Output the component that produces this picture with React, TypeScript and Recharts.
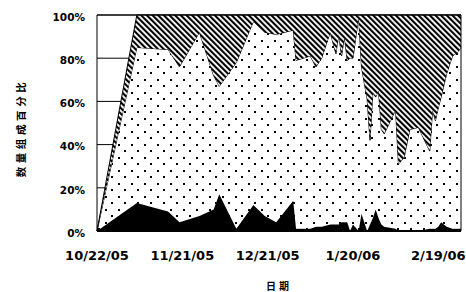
import { AreaChart, Area, XAxis, YAxis, CartesianGrid, ReferenceLine } from 'recharts'

// days counted from 10/22/05
const days = [
  0, 14, 25, 29, 36, 41, 43, 49, 55, 59, 63, 69, 70, 75, 77, 79, 82, 84, 85, 86, 87, 88, 89, 90,
  92, 93, 95, 96, 97, 98, 99, 100, 101, 105, 106, 108, 110, 113, 117, 118, 119, 120, 121, 123,
  125, 127, 128,
]
// share of each group, percent
const solidPct = [
  0, 13, 9, 4, 7, 10, 17, 1, 12, 7, 4, 14, 1, 1, 2, 2, 3, 3, 3, 4, 4, 4, 0, 3,
  0, 8, 0, 3, 6, 10, 6, 3, 2, 1, 0, 0, 0, 0, 1, 1, 1, 2, 4, 2,
  1, 1, 1,
]
const dottedPct = [
  0, 72, 75, 72, 85, 62, 50, 77, 85, 85, 87, 79, 78, 80, 74, 78, 89, 79, 88, 77, 86, 75, 80, 77,
  99, 68, 61, 39, 58, 52, 59, 44, 43, 55, 31, 34, 47, 48, 36, 55, 50, 55, 58, 71,
  80, 82, 84,
]
const hatchedPct = [
  0, 15, 16, 24, 8, 28, 33, 22, 3, 8, 9, 7, 21, 19, 24, 20, 8, 18, 9, 19, 10, 21, 20, 20,
  1, 24, 39, 58, 36, 38, 35, 53, 55, 44, 69, 66, 53, 52, 63, 44, 49, 43, 38, 27,
  19, 17, 15,
]
const dateTicks = [0, 30, 60, 90, 120]
const pctTicks = [0, 20, 40, 60, 80, 100]

const data = days.map((day, i) => ({
  day,
  solid: solidPct[i],
  dotted: dottedPct[i],
  hatched: hatchedPct[i],
}))

const fmtDate = (day: number) => {
  const d = new Date(Date.UTC(2005, 9, 22 + day))
  return `${d.getUTCMonth() + 1}/${d.getUTCDate()}/${String(d.getUTCFullYear()).slice(2)}`
}

const tickStyle = { fill: '#000', fontFamily: 'DejaVu Sans', fontWeight: 'bold' as const }
const cjk = '"Noto Sans CJK SC", sans-serif'

const YTitle = ({ viewBox }: any) => {
  const cx = viewBox.x + 20
  const cy = viewBox.y + viewBox.height / 2 + 5
  return (
    <text
      x={cx}
      y={cy}
      transform={`rotate(-90 ${cx} ${cy})`}
      textAnchor="middle"
      dominantBaseline="central"
      fontFamily={cjk}
      fontWeight="bold"
      fontSize={10.5}
      letterSpacing={3.6}
      fill="#000"
    >
      数量组成百分比
    </text>
  )
}

const XTitle = ({ viewBox }: any) => (
  <text
    x={viewBox.x + viewBox.width / 2}
    y={viewBox.y + viewBox.height - 2}
    textAnchor="middle"
    fontFamily={cjk}
    fontWeight="bold"
    fontSize={10}
    letterSpacing={3}
    fill="#000"
  >
    日期
  </text>
)

export default function App() {
  return (
    <div style={{ position: 'absolute', left: 0, top: 0, width: 466, height: 292, background: '#fff' }}>
      <AreaChart width={466} height={292} data={data} margin={{ top: 15, right: 5, left: 0, bottom: 0 }}>
        <defs>
          <pattern id="dots" patternUnits="userSpaceOnUse" width={13} height={13}>
            <rect width={13} height={13} fill="#fff" />
            <rect x={1} y={1} width={2} height={2} fill="#000" />
            <rect x={7} y={7} width={2} height={2} fill="#000" />
          </pattern>
          <pattern id="hatch" patternUnits="userSpaceOnUse" width={4} height={4} patternTransform="rotate(-45)">
            <rect width={4} height={4} fill="#fff" />
            <rect x={0} y={0} width={2.1} height={4} fill="#000" />
          </pattern>
        </defs>
        <CartesianGrid horizontal vertical={false} stroke="#000" />
        <XAxis
          dataKey="day"
          type="number"
          domain={[0, 128]}
          ticks={dateTicks}
          tickFormatter={fmtDate}
          tick={{ ...tickStyle, fontSize: 13 }}
          tickSize={0}
          tickMargin={20}
          height={61}
          axisLine={{ stroke: '#000', strokeWidth: 2 }}
          tickLine={false}
          label={{ content: XTitle }}
        />
        <YAxis
          type="number"
          domain={[0, 100]}
          ticks={pctTicks}
          tickFormatter={(v: number) => `${v}%`}
          tick={{ ...tickStyle, fontSize: 10.5, dy: 2 }}
          tickSize={0}
          tickMargin={12}
          width={97}
          axisLine={{ stroke: '#000' }}
          tickLine={false}
          label={{ content: YTitle }}
        />
        <Area type="linear" dataKey="solid" stackId="a" fill="#000" fillOpacity={1} stroke="#000" strokeWidth={1} isAnimationActive={false} />
        <Area type="linear" dataKey="dotted" stackId="a" fill="url(#dots)" fillOpacity={1} stroke="#000" strokeWidth={1} isAnimationActive={false} />
        <Area type="linear" dataKey="hatched" stackId="a" fill="url(#hatch)" fillOpacity={1} stroke="#000" strokeWidth={1} isAnimationActive={false} />
        <ReferenceLine x={128} stroke="#000" />
        <ReferenceLine y={100} stroke="#000" />
      </AreaChart>
    </div>
  )
}
